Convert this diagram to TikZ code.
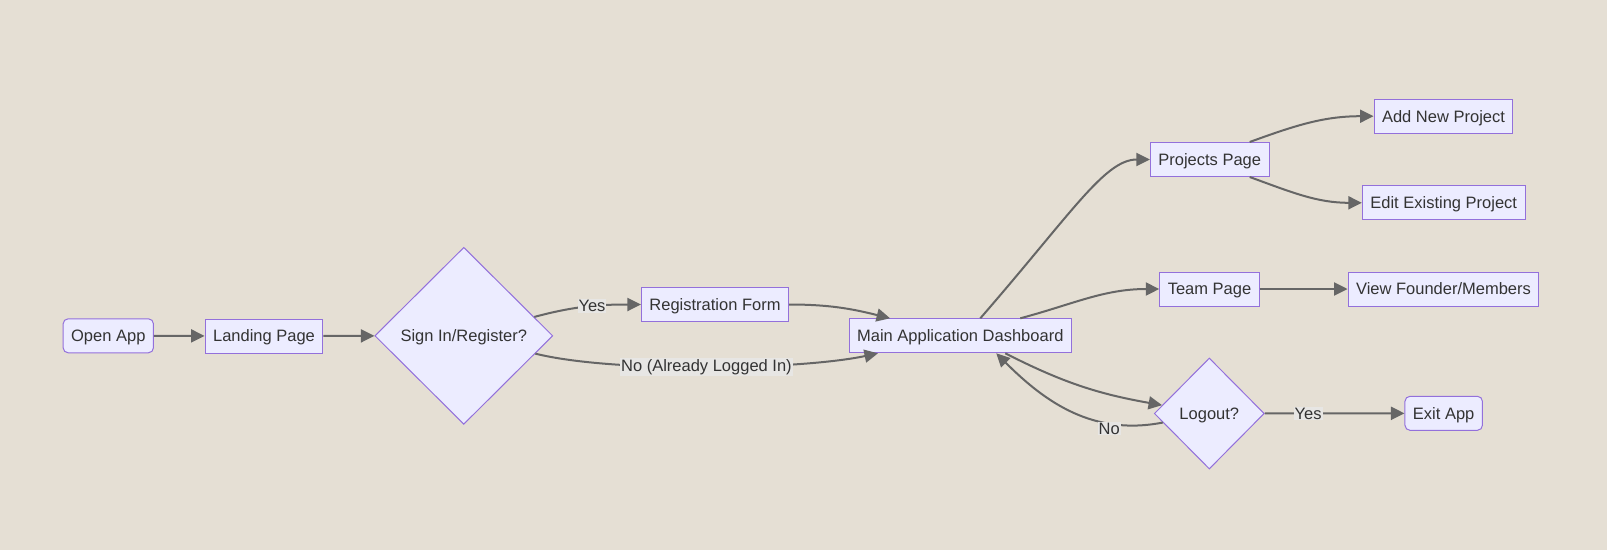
\documentclass[tikz,border=0pt]{standalone}
\usepackage{fontspec}
\setmainfont{Liberation Sans}
\usetikzlibrary{shapes.geometric,arrows.meta}

\definecolor{bgcol}{HTML}{E5DFD4}
\definecolor{nodefill}{HTML}{ECECFF}
\definecolor{nodeline}{HTML}{9370DB}
\definecolor{txtcol}{HTML}{333333}
\definecolor{linecol}{HTML}{666666}
\definecolor{lblfill}{HTML}{E7E6E4}

\tikzset{
  box/.style={draw=nodeline, fill=nodefill, text=txtcol, line width=1pt,
    minimum height=34pt, inner xsep=8pt, text height=11.8pt, text depth=0pt},
  roundbox/.style={box, rounded corners=5pt},
  choice/.style={diamond, draw=nodeline, fill=nodefill, text=txtcol,
    line width=1pt, inner sep=0pt, text height=11.8pt, text depth=0pt},
  flow/.style={draw=linecol, line width=2pt,
    -{Triangle[length=13.5pt,width=13pt]}},
  lbl/.style={fill=lblfill, text=txtcol, inner sep=1pt}
}

\begin{document}
\begin{tikzpicture}[x=1pt, y=-1pt, font=\fontsize{16.5}{19}\selectfont]

    % Background
    \fill[bgcol] (0,0) rectangle (1607,550);
    \useasboundingbox (0,0) rectangle (1607,550);

    % Entry
    \node[roundbox] (open) at (108.3,335.8) {Open App};
    \node[box] (landing) at (264,336) {Landing Page};
    \node[choice, minimum width=178pt, minimum height=177pt] (sign) at (463.8,335.8) {Sign In/Register?};
    \node[box] (reg) at (715,304.5) {Registration Form};

    % Dashboard
    \node[box] (dash) at (960.3,335.8) {Main Application Dashboard};

    % Pages
    \node[box] (proj) at (1209.7,159.5) {Projects Page};
    \node[box] (add) at (1443.5,116.2) {Add New Project};
    \node[box] (edit) at (1443.7,202.8) {Edit Existing Project};
    \node[box] (team) at (1209.5,289) {Team Page};
    \node[box] (view) at (1443.5,289) {View Founder/Members};

    % Exit
    \node[choice, minimum width=110pt, minimum height=111pt] (logout) at (1209.3,413.5) {Logout?};
    \node[roundbox] (exit) at (1443.7,413.3) {Exit App};

    % Connectors
    \draw[flow] (open) -- (landing);
    \draw[flow] (landing) -- (sign);
    \draw[flow] (sign) to[out=15,in=180] node[lbl,pos=0.55] {Yes} (reg);
    \draw[flow] (sign) to[out=-14,in=192,looseness=0.6] node[lbl] {No (Already Logged In)} (dash);
    \draw[flow] (reg.east) to[out=0,in=166] (dash);

    \draw[flow] ([xshift=20pt]dash.north) to[out=49,in=180,out distance=140pt,in distance=45pt] (proj.west);
    \draw[flow] ([xshift=60pt]dash.north) to[out=15,in=180] (team.west);
    \draw[flow] ([xshift=45pt]dash.south) to[out=-27,in=170] (logout);
    \draw[flow] (logout) to[out=191,in=-45] node[lbl,pos=0.28,yshift=-5pt] {No} ([xshift=36pt]dash.south);

    \draw[flow] ([xshift=40pt]proj.north) to[out=20,in=180] (add.west);
    \draw[flow] ([xshift=40pt]proj.south) to[out=-20,in=180] (edit.west);
    \draw[flow] (team) -- (view);
    \draw[flow] (logout) -- node[lbl,pos=0.31] {Yes} (exit);

\end{tikzpicture}
\end{document}
